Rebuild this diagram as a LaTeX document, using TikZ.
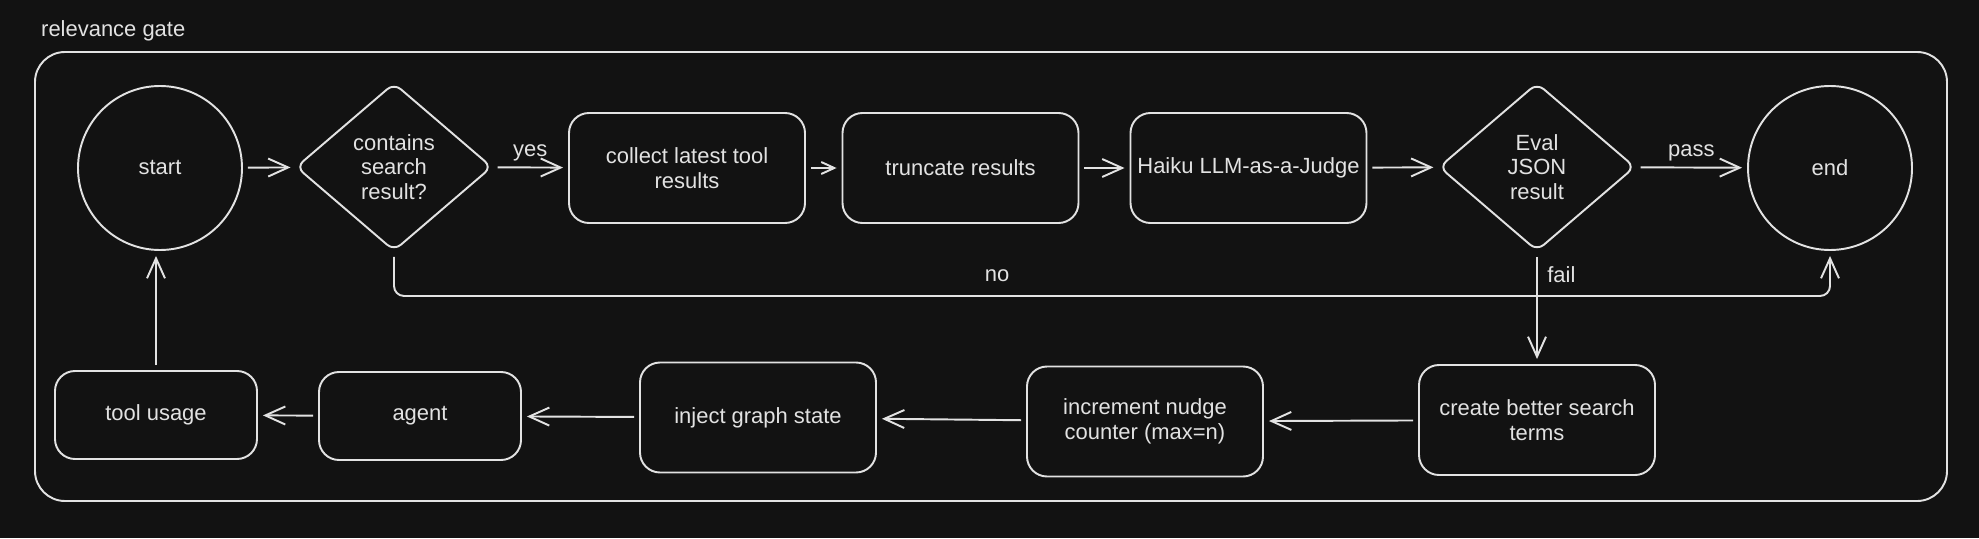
\documentclass[tikz,border=0pt]{standalone}
\usepackage{fontspec}
\setmainfont{Liberation Sans}
\definecolor{gatebg}{RGB}{18,18,18}
\definecolor{gateink}{RGB}{226,226,226}
\usetikzlibrary{arrows.meta,positioning,shapes.geometric}

\begin{document}
\begin{tikzpicture}[
  color=gateink,
  font=\fontsize{12.5}{14}\selectfont,
  box/.style={draw,rounded corners=0.4cm,line width=1.1pt,align=center,
    minimum width=4.72cm,minimum height=2.2cm},
  smallbox/.style={box,minimum width=4.04cm,minimum height=1.76cm},
  dec/.style={draw,diamond,aspect=1.17,inner sep=0pt,rounded corners=5pt,
    line width=1.1pt,align=center,minimum width=3.92cm,minimum height=3.36cm},
  term/.style={draw,circle,line width=1.1pt,minimum size=3.28cm},
  arr/.style={-{Straight Barb[length=4mm,width=3.6mm]},line width=1.1pt,
    shorten >=1mm,shorten <=1mm},
  arrs/.style={-{Straight Barb[length=2.6mm,width=2.4mm]}}
]
  % background and frame
  \fill[gatebg] (0,0) rectangle (39.58,10.76);
  \node[anchor=west] (title) at (0.70,10.14) {relevance gate};
  \node[draw,rounded corners=0.6cm,line width=1.1pt,minimum width=38.24cm,
    minimum height=8.98cm] (gate) at (19.82,5.23) {};

  % top row
  \node[term] (start) at (3.2,7.4) {start};
  \node[dec] (search) at (7.88,7.42) {contains\\search\\result?};
  \node[box] (collect) at (13.74,7.4) {collect latest tool\\results};
  \node[box] (trunc) at (19.21,7.4) {truncate results};
  \node[box] (judge) at (24.97,7.4) {Haiku LLM-as-a-Judge};
  \node[dec] (eval) at (30.74,7.42) {Eval\\JSON\\result};
  \node[term] (end) at (36.6,7.4) {end};

  % bottom row
  \node[smallbox] (tools) at (3.12,2.46) {tool usage};
  \node[smallbox] (agent) at (8.4,2.44) {agent};
  \node[box] (inject) at (15.16,2.41) {inject graph state};
  \node[box] (nudge) at (22.9,2.33) {increment nudge\\counter (max=n)};
  \node[box] (better) at (30.74,2.36) {create better search\\terms};

  % happy path
  \draw[arr] (start) -- (search);
  \draw[arr] (search) -- node[above] (yes) {yes} (collect);
  \draw[arr,arrs] (collect) -- (trunc);
  \draw[arr] (trunc) -- (judge);
  \draw[arr] (judge) -- (eval);
  \draw[arr] (eval) -- node[above] (pass) {pass} (end);

  % no search result
  \draw[arr,rounded corners=0.2cm] (search.south) -- ++(0,-0.88)
    -| node[pos=0.21,above=4pt] (no) {no} (end.south);

  % retry loop
  \draw[arr] (eval) -- node[pos=0.2,right=2pt] (fail) {fail} (better);
  \draw[arr] (better) -- (nudge);
  \draw[arr] (nudge) -- (inject);
  \draw[arr] (inject) -- (agent);
  \draw[arr] (agent) -- (tools);
  \draw[arr] (tools) -- (tools |- start.south);
\end{tikzpicture}
\end{document}
